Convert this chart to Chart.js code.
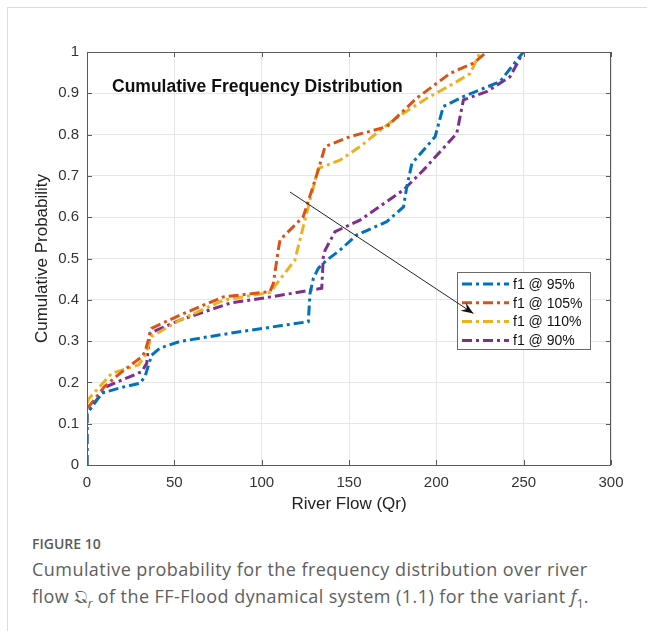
<!DOCTYPE html>
<html>
<head>
<meta charset="utf-8">
<script src="https://cdn.jsdelivr.net/npm/chart.js@4"></script>
<style>
  html, body { margin: 0; padding: 0; background: #fff; }
  body { width: 647px; height: 631px; position: relative; overflow: hidden; }
  #frame { position: absolute; left: 7px; top: 7px; width: 650px; height: 640px;
           border-left: 1px solid #dcdcdc; border-top: 1px solid #dcdcdc; }
  #chartBox { position: absolute; left: 0; top: 0; width: 647px; height: 520px; }
  #figLabel { position: absolute; left: 32px; top: 534px; font-family: "Open Sans", sans-serif;
              font-size: 14px; font-weight: 600; color: #5b5b5b; }
  #caption { position: absolute; left: 32px; top: 556px; width: 575px; font-family: "Open Sans", sans-serif;
             font-size: 18px; letter-spacing: 0.45px; line-height: 27px; color: #5e5e5e; }
  #caption sub { font-size: 12px; line-height: 0; letter-spacing: 0; }
</style>
</head>
<body>
<div id="frame"></div>
<div id="chartBox"><canvas id="cdfChart" width="647" height="520"></canvas></div>
<div id="figLabel">FIGURE 10</div>
<div id="caption">Cumulative probability for the frequency distribution over river flow <span style="font-family:'DejaVu Sans',serif">𝔔</span><sub><i>r</i></sub> of the FF-Flood dynamical system (1.1) for the variant <i>f</i><sub>1</sub>.</div>

<script>
// series labels + colours (MATLAB default order)
const seriesLabels = ['f1 @ 95%', 'f1 @ 105%', 'f1 @ 110%', 'f1 @ 90%'];
const seriesColors = ['#0072BD', '#D95319', '#EDB120', '#7E2F8E'];

// river flow (x) and cumulative probability (y)
const flow95 = [0, 0, 8.4, 20, 30.3, 33.2, 37, 41.8, 53.2, 81.9, 110.5, 126.7, 127.7, 129.6, 132.4, 137.2, 144.8, 154.4, 171.6, 181.2, 183.1, 186, 199.3, 204, 215.5, 236.4, 249.8];
const prob95 = [0, 0.125, 0.174, 0.188, 0.198, 0.214, 0.266, 0.283, 0.299, 0.319, 0.337, 0.347, 0.416, 0.452, 0.476, 0.496, 0.52, 0.557, 0.589, 0.625, 0.674, 0.73, 0.795, 0.868, 0.892, 0.928, 1.0];

const flow105 = [0, 1.7, 10, 18.9, 31.3, 33.2, 37, 53.2, 78, 104.8, 106.7, 109.5, 110.5, 123.8, 132.4, 136.3, 150.6, 171.6, 188.7, 207.8, 221.2, 228.8];
const prob105 = [0.14, 0.145, 0.19, 0.222, 0.262, 0.274, 0.331, 0.363, 0.407, 0.42, 0.44, 0.52, 0.545, 0.601, 0.714, 0.771, 0.795, 0.819, 0.888, 0.948, 0.973, 1.0];

const flow110 = [0, 1, 14.1, 29.4, 33, 37, 53.2, 78, 104.8, 109.5, 119, 123.8, 127.7, 132.4, 144.8, 156.3, 171.6, 181.2, 194.6, 210, 219.4, 225.1];
const prob110 = [0.15, 0.16, 0.222, 0.242, 0.262, 0.311, 0.351, 0.399, 0.418, 0.444, 0.496, 0.577, 0.642, 0.718, 0.738, 0.771, 0.823, 0.852, 0.888, 0.924, 0.948, 1.0];

const flow90 = [0, 0, 11.3, 31.3, 34.2, 36, 53.2, 81.9, 106.7, 134.4, 135.3, 136.3, 142, 156.3, 181.2, 192.6, 211.7, 215.5, 228.8, 242.2, 249.8];
const prob90 = [0, 0.125, 0.19, 0.226, 0.246, 0.319, 0.351, 0.392, 0.408, 0.428, 0.504, 0.52, 0.565, 0.593, 0.666, 0.714, 0.803, 0.884, 0.904, 0.94, 1.0];

const xTicks = [0, 50, 100, 150, 200, 250, 300];
const yTicks = [0, 0.1, 0.2, 0.3, 0.4, 0.5, 0.6, 0.7, 0.8, 0.9, 1];

// annotation arrow, in data units: [x0, y0, x1, y1]
const arrowLine = [116.2, 0.661, 221.2, 0.367];

const plotTitle = 'Cumulative Frequency Distribution';
const dashDot = [10, 4, 3, 4];

function pairUp(xs, ys) {
  return xs.map((x, i) => ({ x: x, y: ys[i] }));
}

const seriesData = [
  pairUp(flow95, prob95),
  pairUp(flow105, prob105),
  pairUp(flow110, prob110),
  pairUp(flow90, prob90)
];

const tickFont = { family: 'Liberation Sans, Arial, sans-serif', size: 15 };
const labelFont = { family: 'Liberation Sans, Arial, sans-serif', size: 17 };

// frame, inward ticks, title, legend box and arrow
const decorPlugin = {
  id: 'decor',
  afterDatasetsDraw(chart) {
    const { ctx, chartArea: a, scales } = chart;
    const xs = scales.x, ys = scales.y;
    ctx.save();

    // box
    ctx.strokeStyle = '#5a5a5a';
    ctx.lineWidth = 1;
    ctx.strokeRect(a.left + 0.5, a.top + 0.5, a.right - a.left - 1, a.bottom - a.top);

    // inward tick marks on all four sides
    ctx.beginPath();
    xTicks.forEach(v => {
      const px = Math.round(xs.getPixelForValue(v)) + 0.5;
      ctx.moveTo(px, a.bottom); ctx.lineTo(px, a.bottom - 5);
      ctx.moveTo(px, a.top); ctx.lineTo(px, a.top + 5);
    });
    yTicks.forEach(v => {
      const py = Math.round(ys.getPixelForValue(v)) + 0.5;
      ctx.moveTo(a.left, py); ctx.lineTo(a.left + 5, py);
      ctx.moveTo(a.right, py); ctx.lineTo(a.right - 5, py);
    });
    ctx.stroke();

    // title inside the axes
    ctx.fillStyle = '#111';
    ctx.font = 'bold 17.5px "Liberation Sans", Arial, sans-serif';
    ctx.textAlign = 'left';
    ctx.textBaseline = 'alphabetic';
    ctx.fillText(plotTitle, a.left + 25, a.top + 40);

    // legend box
    const lx = 457, ly = 272, lw = 133, lh = 77;
    ctx.fillStyle = '#fff';
    ctx.fillRect(lx, ly, lw, lh);
    ctx.strokeStyle = '#6a6a6a';
    ctx.strokeRect(lx + 0.5, ly + 0.5, lw, lh);
    ctx.font = '14px "Liberation Sans", Arial, sans-serif';
    ctx.textBaseline = 'middle';
    seriesLabels.forEach((lab, i) => {
      const yy = ly + 12 + i * 18.8;
      ctx.strokeStyle = seriesColors[i];
      ctx.lineWidth = 3;
      ctx.setLineDash(dashDot);
      ctx.beginPath();
      ctx.moveTo(lx + 5, yy); ctx.lineTo(lx + 52, yy);
      ctx.stroke();
      ctx.setLineDash([]);
      ctx.fillStyle = '#111';
      ctx.fillText(lab, lx + 56, yy + 1);
    });

    // arrow, drawn on top of the legend
    const x0 = xs.getPixelForValue(arrowLine[0]), y0 = ys.getPixelForValue(arrowLine[1]);
    const x1 = xs.getPixelForValue(arrowLine[2]), y1 = ys.getPixelForValue(arrowLine[3]);
    ctx.strokeStyle = '#222';
    ctx.lineWidth = 1;
    ctx.beginPath();
    ctx.moveTo(x0, y0); ctx.lineTo(x1, y1);
    ctx.stroke();
    const ang = Math.atan2(y1 - y0, x1 - x0);
    const hl = 13, hw = 0.38;
    ctx.fillStyle = '#111';
    ctx.beginPath();
    ctx.moveTo(x1, y1);
    ctx.lineTo(x1 - hl * Math.cos(ang - hw), y1 - hl * Math.sin(ang - hw));
    ctx.lineTo(x1 - hl * 0.6 * Math.cos(ang), y1 - hl * 0.6 * Math.sin(ang));
    ctx.lineTo(x1 - hl * Math.cos(ang + hw), y1 - hl * Math.sin(ang + hw));
    ctx.closePath();
    ctx.fill();

    ctx.restore();
  }
};

const ctx = document.getElementById('cdfChart').getContext('2d');
new Chart(ctx, {
  type: 'line',
  data: {
    datasets: seriesData.map((d, i) => ({
      label: seriesLabels[i],
      data: d,
      borderColor: seriesColors[i],
      backgroundColor: seriesColors[i],
      borderWidth: 3,
      borderDash: dashDot,
      pointRadius: 0,
      tension: 0,
      fill: false
    }))
  },
  options: {
    responsive: false,
    animation: false,
    layout: { padding: { left: 0, top: 52, right: 36, bottom: 0 } },
    plugins: { legend: { display: false }, tooltip: { enabled: false } },
    scales: {
      x: {
        type: 'linear',
        min: 0, max: 300,
        afterBuildTicks: s => { s.ticks = xTicks.map(v => ({ value: v })); },
        afterFit: s => { s.height = 55; },
        grid: { color: '#e6e6e6', drawTicks: false },
        border: { display: false },
        ticks: { color: '#333', font: tickFont, padding: 9, maxRotation: 0 },
        title: { display: true, text: 'River Flow (Qr)', color: '#222', font: labelFont, padding: { top: 0, bottom: 5 } }
      },
      y: {
        type: 'linear',
        min: 0, max: 1,
        afterBuildTicks: s => { s.ticks = yTicks.map(v => ({ value: v })); },
        afterFit: s => { s.width = 87; },
        grid: { color: '#e6e6e6', drawTicks: false },
        border: { display: false },
        ticks: { color: '#333', font: tickFont, padding: 8, callback: v => String(Math.round(v * 10) / 10) },
        title: { display: true, text: 'Cumulative Probability', color: '#222', font: labelFont, padding: { top: 32, bottom: 0 } }
      }
    }
  },
  plugins: [decorPlugin]
});
</script>
</body>
</html>
